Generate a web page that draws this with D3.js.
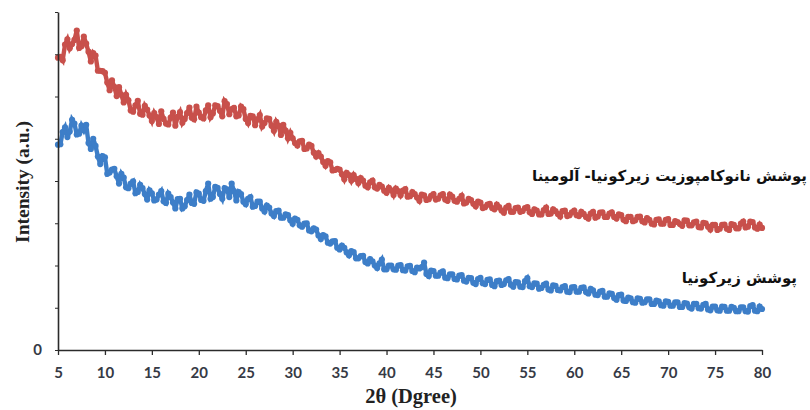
<!DOCTYPE html>
<html>
<head>
<meta charset="utf-8">
<script src="https://cdn.jsdelivr.net/npm/d3@7"></script>
<style>
  html, body { margin: 0; padding: 0; background: #fff; }
  svg { display: block; }
</style>
</head>
<body>
<svg id="chart" width="810" height="410"></svg>
<script>
// 2θ positions (degrees), 0.25° steps
const twoTheta = [5,5.25,5.5,5.75,6,6.25,6.5,6.75,7,7.25,7.5,7.75,8,8.25,8.5,8.75,9,9.25,9.5,9.75,
10,10.25,10.5,10.75,11,11.25,11.5,11.75,12,12.25,12.5,12.75,13,13.25,13.5,13.75,14,14.25,14.5,14.75,
15,15.25,15.5,15.75,16,16.25,16.5,16.75,17,17.25,17.5,17.75,18,18.25,18.5,18.75,19,19.25,19.5,19.75,
20,20.25,20.5,20.75,21,21.25,21.5,21.75,22,22.25,22.5,22.75,23,23.25,23.5,23.75,24,24.25,24.5,24.75,
25,25.25,25.5,25.75,26,26.25,26.5,26.75,27,27.25,27.5,27.75,28,28.25,28.5,28.75,29,29.25,29.5,29.75,
30,30.25,30.5,30.75,31,31.25,31.5,31.75,32,32.25,32.5,32.75,33,33.25,33.5,33.75,34,34.25,34.5,34.75,
35,35.25,35.5,35.75,36,36.25,36.5,36.75,37,37.25,37.5,37.75,38,38.25,38.5,38.75,39,39.25,39.5,39.75,
40,40.25,40.5,40.75,41,41.25,41.5,41.75,42,42.25,42.5,42.75,43,43.25,43.5,43.75,44,44.25,44.5,44.75,
45,45.25,45.5,45.75,46,46.25,46.5,46.75,47,47.25,47.5,47.75,48,48.25,48.5,48.75,49,49.25,49.5,49.75,
50,50.25,50.5,50.75,51,51.25,51.5,51.75,52,52.25,52.5,52.75,53,53.25,53.5,53.75,54,54.25,54.5,54.75,
55,55.25,55.5,55.75,56,56.25,56.5,56.75,57,57.25,57.5,57.75,58,58.25,58.5,58.75,59,59.25,59.5,59.75,
60,60.25,60.5,60.75,61,61.25,61.5,61.75,62,62.25,62.5,62.75,63,63.25,63.5,63.75,64,64.25,64.5,64.75,
65,65.25,65.5,65.75,66,66.25,66.5,66.75,67,67.25,67.5,67.75,68,68.25,68.5,68.75,69,69.25,69.5,69.75,
70,70.25,70.5,70.75,71,71.25,71.5,71.75,72,72.25,72.5,72.75,73,73.25,73.5,73.75,74,74.25,74.5,74.75,
75,75.25,75.5,75.75,76,76.25,76.5,76.75,77,77.25,77.5,77.75,78,78.25,78.5,78.75,79,79.25,79.5,79.75,
80];

// Zirconia–alumina nanocomposite coating (red)
const compositeIntensity = [
6.92,6.94,6.86,7.23,7.35,7.14,7.24,7.34,7.56,7.15,7.19,7.42,7.25,7.06,6.83,7.03,6.97,6.61,6.61,6.60,
6.56,6.33,6.15,6.38,6.23,6.01,6.22,6.04,5.86,6.04,5.91,5.67,5.64,5.79,5.90,5.59,5.57,5.78,5.69,5.55,
5.42,5.61,5.51,5.35,5.65,5.47,5.36,5.34,5.50,5.62,5.31,5.52,5.63,5.38,5.47,5.61,5.74,5.50,5.46,5.76,
5.62,5.51,5.48,5.67,5.79,5.51,5.60,5.79,5.77,5.66,5.53,5.89,5.82,5.58,5.70,5.73,5.53,5.55,5.76,5.70,
5.47,5.37,5.54,5.53,5.32,5.46,5.56,5.29,5.37,5.48,5.47,5.31,5.19,5.40,5.31,5.09,5.33,5.19,5.01,5.14,
5.01,4.90,4.84,4.94,4.95,4.76,4.77,4.86,4.83,4.67,4.58,4.66,4.58,4.45,4.36,4.47,4.44,4.25,4.26,4.29,
4.27,4.16,4.04,4.19,4.14,4.01,4.14,4.05,3.95,4.07,4.01,3.89,3.85,3.97,4.01,3.85,3.82,3.91,3.87,3.77,
3.72,3.84,3.78,3.67,3.82,3.76,3.66,3.77,3.81,3.63,3.64,3.74,3.69,3.61,3.53,3.68,3.66,3.55,3.57,3.65,
3.69,3.56,3.58,3.66,3.69,3.56,3.53,3.68,3.63,3.53,3.51,3.58,3.65,3.47,3.49,3.58,3.55,3.46,3.40,3.51,
3.49,3.36,3.38,3.44,3.46,3.36,3.33,3.44,3.38,3.30,3.25,3.37,3.41,3.27,3.27,3.36,3.37,3.27,3.29,3.36,
3.38,3.26,3.22,3.33,3.30,3.21,3.21,3.31,3.37,3.22,3.23,3.33,3.29,3.22,3.16,3.29,3.30,3.17,3.19,3.26,
3.30,3.19,3.17,3.27,3.22,3.15,3.11,3.23,3.27,3.13,3.16,3.25,3.26,3.15,3.15,3.23,3.26,3.15,3.11,3.21,
3.19,3.08,3.05,3.15,3.15,3.05,3.07,3.15,3.16,3.05,3.02,3.12,3.08,2.99,2.97,3.08,3.09,2.99,2.99,3.08,
3.10,2.96,2.96,3.05,3.03,2.98,2.94,3.07,3.06,2.95,2.95,3.02,3.04,2.91,2.90,3.01,3.00,2.92,2.85,2.96,
2.96,2.84,2.87,2.96,2.97,2.87,2.84,2.98,2.96,2.88,2.88,2.99,3.04,2.90,2.92,3.04,3.03,2.90,2.87,2.97,
2.89];

// Zirconia coating (blue)
const zirconiaIntensity = [
4.86,4.87,5.16,5.27,5.04,5.17,5.45,5.36,5.10,5.12,5.31,5.20,5.33,4.90,4.76,5.00,4.83,4.58,4.40,4.59,
4.56,4.17,4.20,4.27,4.29,4.11,3.94,4.17,4.08,3.85,3.83,3.94,3.99,3.71,3.74,3.91,3.83,3.69,3.56,3.78,
3.71,3.54,3.56,3.68,3.76,3.52,3.48,3.70,3.62,3.49,3.35,3.57,3.58,3.35,3.40,3.55,3.68,3.48,3.46,3.73,
3.70,3.55,3.53,3.76,3.94,3.58,3.62,3.86,3.84,3.69,3.58,3.83,3.80,3.62,3.94,3.76,3.54,3.74,3.69,3.51,
3.45,3.58,3.62,3.39,3.41,3.51,3.51,3.35,3.28,3.42,3.37,3.23,3.17,3.29,3.30,3.13,3.13,3.21,3.19,3.07,
2.99,3.11,3.08,2.95,2.92,2.99,3.00,2.83,2.81,2.88,2.85,2.71,2.63,2.72,2.69,2.54,2.52,2.57,2.58,2.42,
2.38,2.47,2.42,2.31,2.24,2.34,2.32,2.17,2.17,2.22,2.23,2.08,2.05,2.15,2.10,2.00,1.94,2.05,2.14,1.91,
1.91,2.00,2.00,1.91,1.90,2.00,2.01,1.89,1.88,1.98,1.99,1.87,1.84,1.95,1.93,1.96,2.07,1.80,1.75,1.88,
1.87,1.76,1.76,1.83,1.86,1.71,1.70,1.79,1.79,1.68,1.67,1.76,1.77,1.64,1.62,1.71,1.70,1.59,1.56,1.68,
1.71,1.58,1.56,1.66,1.67,1.54,1.51,1.63,1.64,1.54,1.56,1.65,1.68,1.54,1.50,1.61,1.60,1.50,1.49,1.63,
1.70,1.51,1.49,1.58,1.57,1.45,1.47,1.54,1.57,1.43,1.41,1.53,1.52,1.42,1.41,1.49,1.51,1.38,1.37,1.48,
1.49,1.38,1.38,1.47,1.48,1.37,1.34,1.45,1.41,1.31,1.30,1.38,1.40,1.26,1.26,1.34,1.33,1.23,1.19,1.30,
1.31,1.17,1.16,1.24,1.22,1.13,1.12,1.22,1.21,1.12,1.13,1.20,1.20,1.09,1.09,1.17,1.15,1.06,1.05,1.15,
1.14,1.05,1.05,1.13,1.13,1.02,1.02,1.11,1.10,1.01,0.98,1.09,1.09,0.99,0.98,1.07,1.09,0.96,0.94,1.03,
1.03,0.94,0.93,1.03,1.02,0.93,0.93,1.02,1.00,0.92,0.92,1.01,1.01,0.92,0.91,1.04,1.06,0.93,0.92,1.03,
0.97];

const xTicks = [5,10,15,20,25,30,35,40,45,50,55,60,65,70,75,80];
const yTicks = [0,1,2,3,4,5,6,7,8];
const yTickLabels = ["0"];
const seriesLabels = ["پوشش نانوکامپوزیت زیرکونیا- آلومینا", "پوشش زیرکونیا"];
const xTitle = "2θ (Dgree)";
const yTitle = "Intensity (a.u.)";

const svg = d3.select("#chart");
const x = d3.scaleLinear().domain([5, 80]).range([58, 762]);
const y = d3.scaleLinear().domain([0, 8]).range([350, 12]);

const axisColor = "#2b2b2b";
const tickFont = "Lato, 'Open Sans', sans-serif";

// series: thick line plus small round markers
const line = d3.line().x((d, i) => x(twoTheta[i])).y(d => y(d));
const series = [
  {values: compositeIntensity, color: "#c8504b"},
  {values: zirconiaIntensity, color: "#3d7ec8"}
];
const sg = svg.selectAll("g.series").data(series).join("g").attr("class", "series");
sg.append("path")
  .attr("d", d => line(d.values))
  .attr("fill", "none")
  .attr("stroke", d => d.color)
  .attr("stroke-width", 4.4)
  .attr("stroke-linejoin", "miter")
  .attr("stroke-miterlimit", 3);
sg.each(function(s) {
  d3.select(this).selectAll("circle").data(s.values).join("circle")
    .attr("cx", (d, i) => x(twoTheta[i]))
    .attr("cy", d => y(d))
    .attr("r", 3.1)
    .attr("fill", s.color);
});

// x axis
const xAxis = d3.axisBottom(x).tickValues(xTicks).tickSize(5).tickSizeOuter(0).tickFormat(d3.format("d"));
const gx = svg.append("g").attr("transform", `translate(0,${y(0)})`).call(xAxis);
gx.select(".domain").attr("stroke", axisColor).attr("stroke-width", 1.6);
gx.selectAll(".tick line").attr("stroke", axisColor).attr("stroke-width", 1.3);
gx.selectAll(".tick text")
  .attr("y", 17)
  .attr("font-family", tickFont).attr("font-weight", "bold").attr("font-size", 15)
  .attr("fill", "#363a45");

// y axis
const yAxis = d3.axisLeft(y).tickValues(yTicks).tickSize(3).tickSizeOuter(0)
  .tickFormat(d => d === 0 ? yTickLabels[0] : "");
const gy = svg.append("g").attr("transform", `translate(${x(5)},0)`).call(yAxis);
gy.select(".domain").attr("stroke", axisColor).attr("stroke-width", 1.6);
gy.selectAll(".tick line").attr("stroke", axisColor).attr("stroke-width", 1);
gy.selectAll(".tick text")
  .attr("x", -16)
  .attr("font-family", tickFont).attr("font-weight", "bold").attr("font-size", 15)
  .attr("fill", "#363a45");

// axis titles
svg.append("text")
  .attr("x", 411).attr("y", 403)
  .attr("text-anchor", "middle")
  .attr("font-family", "'Liberation Serif', 'Times New Roman', serif")
  .attr("font-weight", "bold").attr("font-size", 20.5)
  .attr("fill", "#222")
  .text(xTitle);

svg.append("text")
  .attr("transform", "translate(29,182) rotate(-90)")
  .attr("text-anchor", "middle")
  .attr("font-family", "'Liberation Serif', 'Times New Roman', serif")
  .attr("font-weight", "bold").attr("font-size", 19.5)
  .attr("fill", "#222")
  .text(yTitle);

// series labels
const labelPos = [{x: 807, y: 181}, {x: 797, y: 283}];
svg.selectAll("text.slabel").data(seriesLabels).join("text")
  .attr("class", "slabel")
  .attr("x", (d, i) => labelPos[i].x)
  .attr("y", (d, i) => labelPos[i].y)
  .attr("direction", "rtl")
  .attr("text-anchor", "start")
  .attr("font-family", "'DejaVu Sans', sans-serif")
  .attr("font-weight", "bold").attr("font-size", 15)
  .attr("fill", "#111")
  .text(d => d);
</script>
</body>
</html>
